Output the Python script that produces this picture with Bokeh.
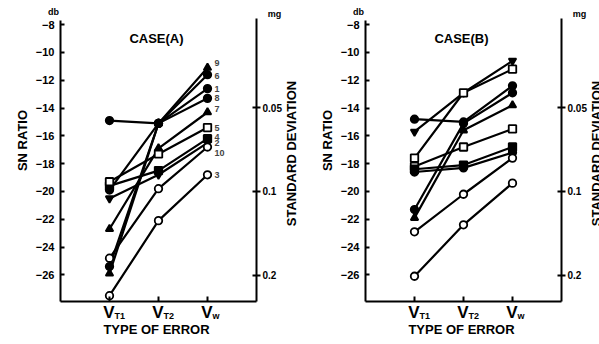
import math

from bokeh.embed import file_html
from bokeh.layouts import row
from bokeh.models import FixedTicker, Label, LinearAxis, Range1d
from bokeh.plotting import figure
from bokeh.resources import INLINE

# ---------------------------------------------------------------- data
error_types = ["VT1", "VT2", "Vw"]
x_pos = [1, 2, 3]
sn_ticks = [-8, -10, -12, -14, -16, -18, -20, -22, -24, -26]
sd_ticks = [0.05, 0.1, 0.2]
sd_tick_labels = ["0.05", "0.1", "0.2"]

# Case (A): SN ratio [dB] at VT1, VT2, Vw for specimens 1..10
case_a_1 = [-14.9, -15.1, -12.6]
case_a_2 = [-19.6, -18.5, -16.2]
case_a_3 = [-27.5, -22.1, -18.8]
case_a_4 = [-20.5, -18.8, -16.5]
case_a_5 = [-19.3, -17.3, -15.4]
case_a_6 = [-25.4, -15.1, -11.6]
case_a_7 = [-22.7, -16.9, -14.3]
case_a_8 = [-19.9, -15.1, -13.3]
case_a_9 = [-25.9, -15.1, -11.1]
case_a_10 = [-24.8, -19.8, -16.8]

# Case (B): SN ratio [dB] at VT1, VT2, Vw
case_b_1 = [-14.8, -15.0, -12.4]
case_b_2 = [-15.7, -12.9, -10.6]
case_b_3 = [-17.6, -12.9, -11.2]
case_b_4 = [-21.3, -15.1, -12.9]
case_b_5 = [-21.9, -15.6, -13.8]
case_b_6 = [-18.2, -16.8, -15.5]
case_b_7 = [-18.4, -18.1, -16.8]
case_b_8 = [-18.6, -18.3, -17.2]
case_b_9 = [-22.9, -20.2, -17.6]
case_b_10 = [-26.1, -22.4, -19.4]

case_a_series = [
    ("1", case_a_1, "circle", True),
    ("2", case_a_2, "square", True),
    ("3", case_a_3, "circle", False),
    ("4", case_a_4, "inverted_triangle", True),
    ("5", case_a_5, "square", False),
    ("6", case_a_6, "circle", True),
    ("7", case_a_7, "triangle", True),
    ("8", case_a_8, "circle", True),
    ("9", case_a_9, "triangle", True),
    ("10", case_a_10, "circle", False),
]
case_b_series = [
    ("1", case_b_1, "circle", True),
    ("2", case_b_2, "inverted_triangle", True),
    ("3", case_b_3, "square", False),
    ("4", case_b_4, "circle", True),
    ("5", case_b_5, "triangle", True),
    ("6", case_b_6, "square", False),
    ("7", case_b_7, "square", True),
    ("8", case_b_8, "circle", True),
    ("9", case_b_9, "circle", False),
    ("10", case_b_10, "circle", False),
]

# vertical nudges (px) for the specimen numbers beside the Vw points
number_nudge = {"9": -5, "6": 1, "1": 0, "8": 0, "7": -3, "5": 0,
                "2": 4, "4": -6, "10": 6, "3": 0}

# ---------------------------------------------------------------- layout
FONT = "Liberation Sans"
HEIGHT = 344
TOP = 20            # canvas px of the Y_TOP value
Y_TOP = -7.7
PX_DB = 13.9        # px per dB
AXIS_BOTTOM = 301   # canvas px of the error-type axis
PX_X = 49.0         # px per error-type step
X_END = 4.0


def ydat(py):
    return Y_TOP - (py - TOP) / PX_DB


Y_BOT = ydat(AXIS_BOTTOM)


def sd_to_sn(sd):
    # SN ratio corresponding to a standard deviation in mg
    return -20.0 * math.log10(sd / 0.01)


def style_axis(ax, size="11px"):
    ax.minor_tick_line_color = None
    ax.major_tick_line_width = 2
    ax.axis_line_width = 2
    ax.major_label_text_font = FONT
    ax.major_label_text_font_style = "bold"
    ax.major_label_text_font_size = size
    ax.major_label_text_color = "black"


def make_panel(width, left, title, series, numbered):
    def xdat(px):
        return (px - left) / PX_X

    def label(px, py, text, size, align="center", baseline="middle",
              angle=0.0):
        p.add_layout(Label(x=xdat(px), y=ydat(py), text=text,
                           text_font=FONT, text_font_size=f"{size}px",
                           text_font_style="bold", text_color="black",
                           text_align=align, text_baseline=baseline,
                           angle=angle))

    p = figure(width=width, height=HEIGHT, output_backend="svg",
               toolbar_location=None, x_axis_type=None, y_axis_type=None,
               x_range=Range1d(xdat(0), xdat(width)),
               y_range=Range1d(ydat(HEIGHT), ydat(0)),
               min_border=0, min_border_left=0, min_border_right=0,
               min_border_top=0, min_border_bottom=0)
    p.outline_line_color = None
    p.background_fill_color = "white"
    p.border_fill_color = "white"

    # left SN ratio axis
    ya = LinearAxis(ticker=FixedTicker(ticks=sn_ticks), fixed_location=0,
                    bounds=(Y_BOT, Y_TOP))
    style_axis(ya)
    ya.major_tick_in = 4
    ya.major_tick_out = 0
    ya.major_label_standoff = 6
    p.add_layout(ya, "left")

    # bottom error-type axis (labels drawn separately with subscripts)
    xa = LinearAxis(ticker=FixedTicker(ticks=x_pos), fixed_location=Y_BOT,
                    bounds=(0, X_END),
                    major_label_overrides={v: "" for v in x_pos})
    style_axis(xa)
    xa.major_tick_in = 5
    xa.major_tick_out = 0
    p.add_layout(xa, "below")

    # right standard-deviation axis
    sd_pos = [sd_to_sn(s) for s in sd_ticks]
    ra = LinearAxis(ticker=FixedTicker(ticks=sd_pos), fixed_location=X_END,
                    bounds=(Y_BOT, ydat(TOP - 2)),
                    major_label_overrides=dict(zip(sd_pos, sd_tick_labels)))
    style_axis(ra, "10px")
    ra.major_tick_in = 4
    ra.major_tick_out = 4
    ra.major_label_standoff = 2
    p.add_layout(ra, "right")

    # series: lines first, markers on top
    for _, vals, _, _ in series:
        p.line(x_pos, vals, line_width=2.2, line_color="black")
    for _, vals, marker, filled in series:
        p.scatter(x_pos, vals, marker=marker, size=7.5,
                  fill_color="black" if filled else "white",
                  line_color="black", line_width=1.8)

    if numbered:
        for name, vals, _, _ in series:
            p.add_layout(Label(x=x_pos[-1], x_offset=7,
                               y=vals[-1] - number_nudge[name] / PX_DB,
                               text=name, text_font=FONT,
                               text_font_size="9px", text_font_style="bold",
                               text_align="left", text_baseline="middle"))

    frame_r = left + X_END * PX_X
    label(left - 7, 11, "db", 9)
    label(frame_r + 18, 13, "mg", 9)
    label(left + 96, 38, title, 13)
    label(left - 38, 140, "SN RATIO", 13, angle=math.pi / 2)
    label(frame_r + 35, 153, "STANDARD DEVIATION", 13, angle=math.pi / 2)
    label(left + 96, 329, "TYPE OF ERROR", 13)

    for xv, name in zip(x_pos, error_types):
        px = left + xv * PX_X
        label(px + 5, 312, "V", 17, align="right")
        sub = "w" if name == "Vw" else name[1:]
        label(px + 5, 315, sub, 9, align="left")
    return p


panel_a = make_panel(300, 60, "CASE(A)", case_a_series, True)
panel_b = make_panel(299, 65, "CASE(B)", case_b_series, False)

layout = row(panel_a, panel_b, spacing=0)
open("out.html", "w").write(file_html(layout, INLINE))
